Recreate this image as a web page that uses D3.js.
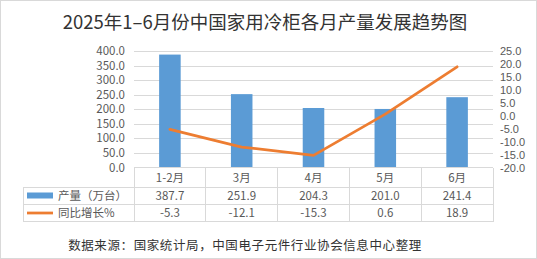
<!DOCTYPE html>
<html>
<head>
<meta charset="utf-8">
<script src="https://cdn.jsdelivr.net/npm/d3@7"></script>
<style>
  html, body { margin: 0; padding: 0; background: #fff; }
  svg { display: block; font-family: "Microsoft YaHei", "Noto Sans CJK SC", sans-serif; }
</style>
</head>
<body>
<svg id="chart" width="537" height="259"></svg>
<script>
// chart data
const months = ["1-2月", "3月", "4月", "5月", "6月"];
const output = [387.7, 251.9, 204.3, 201.0, 241.4];
const growth = [-5.3, -12.1, -15.3, 0.6, 18.9];
const leftTicks = [0, 50, 100, 150, 200, 250, 300, 350, 400];
const rightTicks = [-20, -15, -10, -5, 0, 5, 10, 15, 20, 25];
const seriesNames = ["产量（万台）", "同比增长%"];

const width = 537, height = 259;
const plot = { left: 134, right: 493, top: 51, bottom: 167.5 };
const tableLeft = 23;
const rowLines = [167.5, 187.5, 204.5, 221.5];

const blue = "#5B9BD5", orange = "#ED7D31", grid = "#D9D9D9", txt = "#595959";

const svg = d3.select("#chart");

// background + outer border
svg.append("rect")
  .attr("x", 0.5).attr("y", 0.5)
  .attr("width", width - 1).attr("height", height - 1)
  .attr("fill", "#fff")
  .attr("stroke", "#D9D9D9");

// title
svg.append("text")
  .attr("x", 265).attr("y", 29)
  .attr("text-anchor", "middle")
  .style("font-size", "18.5px")
  .style("fill", "#333")
  .text("2025年1–6月份中国家用冷柜各月产量发展趋势图");

// scales
const x = d3.scaleBand().domain(months).range([plot.left, plot.right]).padding(0);
const yL = d3.scaleLinear().domain([0, 400]).range([plot.bottom, plot.top]);
const yR = d3.scaleLinear().domain([-20, 25]).range([plot.bottom, plot.top]);

// gridlines
svg.append("g").selectAll("line")
  .data(leftTicks.slice(1))
  .enter().append("line")
  .attr("x1", plot.left).attr("x2", plot.right)
  .attr("y1", d => Math.round(yL(d)) + 0.5)
  .attr("y2", d => Math.round(yL(d)) + 0.5)
  .attr("stroke", grid);

// left axis labels
svg.append("g").selectAll("text")
  .data(leftTicks)
  .enter().append("text")
  .attr("x", 125)
  .attr("y", d => yL(d) + 4)
  .attr("text-anchor", "end")
  .style("font-size", "11.5px")
  .style("fill", txt)
  .text(d => d.toFixed(1));

// right axis labels - ticks are tight, use a latin font with a shorter line box
svg.append("g").selectAll("text")
  .data(rightTicks)
  .enter().append("text")
  .attr("x", 500)
  .attr("y", d => yR(d) + 4)
  .attr("text-anchor", "start")
  .style("font-family", "'Liberation Sans', Arial, sans-serif")
  .style("font-size", "11px")
  .style("fill", txt)
  .text(d => d.toFixed(1));

// bars
const barW = x.bandwidth() * 0.3;
svg.append("g").selectAll("rect")
  .data(output)
  .enter().append("rect")
  .attr("x", (d, i) => x(months[i]) + (x.bandwidth() - barW) / 2)
  .attr("y", d => yL(d))
  .attr("width", barW)
  .attr("height", d => plot.bottom - yL(d))
  .attr("fill", blue);

// growth line
const line = d3.line()
  .x((d, i) => x(months[i]) + x.bandwidth() / 2)
  .y(d => yR(d));

svg.append("path")
  .datum(growth)
  .attr("d", line)
  .attr("fill", "none")
  .attr("stroke", orange)
  .attr("stroke-width", 2.75)
  .attr("stroke-linejoin", "round")
  .attr("stroke-linecap", "round");

// data table
const table = svg.append("g").attr("stroke", grid).attr("shape-rendering", "crispEdges");
table.append("line")
  .attr("x1", plot.left).attr("x2", plot.right)
  .attr("y1", rowLines[0]).attr("y2", rowLines[0]);
rowLines.slice(1).forEach(yy => {
  table.append("line")
    .attr("x1", tableLeft).attr("x2", plot.right)
    .attr("y1", yy).attr("y2", yy);
});
table.append("line")
  .attr("x1", tableLeft).attr("x2", tableLeft)
  .attr("y1", rowLines[1]).attr("y2", rowLines[3]);
months.forEach(m => {
  table.append("line")
    .attr("x1", x(m)).attr("x2", x(m))
    .attr("y1", rowLines[0]).attr("y2", rowLines[3]);
});
table.append("line")
  .attr("x1", plot.right).attr("x2", plot.right)
  .attr("y1", rowLines[0]).attr("y2", rowLines[3]);

const rowMid = i => (rowLines[i] + rowLines[i + 1]) / 2 + 4;

// category row
svg.append("g").selectAll("text")
  .data(months)
  .enter().append("text")
  .attr("x", d => x(d) + x.bandwidth() / 2)
  .attr("y", rowMid(0))
  .attr("text-anchor", "middle")
  .style("font-size", "11.5px")
  .style("fill", txt)
  .text(d => d);

// value rows
[output, growth].forEach((vals, r) => {
  svg.append("g").selectAll("text")
    .data(vals)
    .enter().append("text")
    .attr("x", (d, i) => x(months[i]) + x.bandwidth() / 2)
    .attr("y", rowMid(r + 1))
    .attr("text-anchor", "middle")
    .style("font-size", "11.5px")
    .style("fill", txt)
    .text(d => d.toFixed(1));
});

// legend keys inside the table
svg.append("rect")
  .attr("x", 27).attr("y", 192.5)
  .attr("width", 26).attr("height", 6)
  .attr("fill", blue);
svg.append("line")
  .attr("x1", 27).attr("x2", 53)
  .attr("y1", 213).attr("y2", 213)
  .attr("stroke", orange)
  .attr("stroke-width", 2.75);
seriesNames.forEach((name, i) => {
  svg.append("text")
    .attr("x", 58)
    .attr("y", rowMid(i + 1))
    .style("font-size", "11.5px")
    .style("fill", txt)
    .text(name);
});

// source note
svg.append("text")
  .attr("x", 245).attr("y", 250)
  .attr("text-anchor", "middle")
  .style("font-size", "12.5px")
  .style("letter-spacing", "0.6px")
  .style("fill", "#333")
  .text("数据来源：国家统计局，中国电子元件行业协会信息中心整理");
</script>
</body>
</html>
